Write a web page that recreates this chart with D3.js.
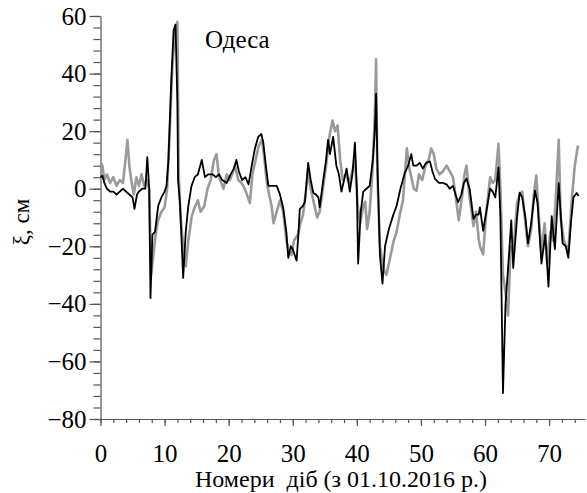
<!DOCTYPE html>
<html>
<head>
<meta charset="utf-8">
<script src="https://cdn.jsdelivr.net/npm/d3@7"></script>
<style>
  body { margin: 0; background: #fff; }
  svg { display: block; }
</style>
</head>
<body>
<svg id="chart"></svg>
<script>
// observed sea level (grey), [day, cm]
const observed = [
  [0, 9], [0.3, 8], [0.6, 3], [1.0, 5], [1.5, 2], [2.0, 4], [2.5, 1], [3.0, 3], [3.5, 2], [3.8, 8],
  [4.2, 17], [4.5, 8], [4.8, 3], [5.2, -2], [5.6, 4], [6.0, 1], [6.4, 5], [6.8, 1], [7.2, 3], [7.6, 0],
  [7.9, -30], [8.3, -22], [8.6, -16], [9.0, -11], [9.5, -8], [10.0, -6.5], [10.4, 0], [10.8, 20], [11.2, 42], [11.6, 54],
  [12.0, 58], [12.2, 5], [12.5, -10], [13.0, -22], [13.3, -27], [13.7, -18], [14.2, -10], [14.6, -7], [15.2, -4], [15.6, -8],
  [16.2, -6], [16.7, 0], [17.2, 3], [17.7, 10], [18.1, 12], [18.5, 4], [19.2, 0], [19.7, 5], [20.2, 3], [20.7, 6],
  [21.0, 8], [21.5, 3], [22.0, 2], [22.5, 0], [23.0, -3], [23.3, -5], [23.7, 5], [24.2, 10], [24.7, 15], [25.2, 17],
  [25.5, 12], [25.9, 3], [26.3, -2], [26.7, -6], [27.0, -12], [27.5, -8], [28.0, -4], [28.5, -8], [29.0, -18], [29.4, -22],
  [29.8, -23], [30.2, -18], [30.8, -16], [31.2, -12], [31.6, -9], [32.0, -2], [32.4, 6], [32.8, 0], [33.3, -5], [33.8, -10],
  [34.2, -8], [34.7, 0], [35.2, 8], [35.7, 18], [36.2, 23.7], [36.6, 20], [37.0, 22], [37.4, 10], [37.8, 3], [38.3, 5],
  [38.8, 2], [39.3, 6], [39.7, 10], [40.1, -5], [40.5, -12], [41.0, -6], [41.3, -4.5], [41.6, -14], [42.0, -8], [42.4, 5],
  [42.8, 25], [43.0, 45], [43.2, 5], [43.6, -20], [44.2, -28], [44.6, -30], [45.0, -26], [45.7, -18.5], [46.2, -15], [46.7, -9],
  [47.2, -4], [47.8, 14], [48.2, 7], [48.9, 0], [49.3, -0.7], [49.7, 5], [50.2, 3], [50.7, 8], [51.2, 10], [51.6, 14],
  [52.0, 12], [52.4, 7], [52.9, 5], [53.4, 6], [54.0, 8], [54.5, 6], [55.0, 4], [55.5, -4], [55.9, -11], [56.4, -3],
  [56.8, 5], [57.1, 8], [57.6, -3], [58.2, -13], [58.6, -8], [59.0, -17], [59.2, -20], [59.7, -22.8], [60.2, -8], [60.8, 4],
  [61.2, 2], [61.6, 3], [62.1, 15.6], [62.4, 0], [62.8, -30], [63.2, -36], [63.6, -44], [64.0, -20], [64.4, -22], [65.0, -5],
  [65.4, -2], [65.8, -1], [66.3, -12], [66.7, -20], [67.2, -14], [67.6, -2], [68.0, 4.6], [68.4, -10], [68.8, -22], [69.3, -12],
  [69.7, -26], [70.2, -15], [70.6, -18], [71.0, -5], [71.5, 17], [71.8, -10], [72.3, -18], [73.0, -22], [73.5, -5], [74.0, 8],
  [74.5, 15]
];

// modelled sea level (black), [day, cm]
const modelled = [
  [0, 4], [0.3, 4.5], [0.6, 2], [1.0, 0], [1.5, -1], [2.0, -1], [2.5, -2], [3.0, -1], [3.5, 0], [4.0, -1],
  [4.5, -2], [5.0, -3], [5.3, -7], [5.7, -2], [6.0, -1], [6.5, 0], [7.0, 0], [7.3, 11], [7.6, 0], [7.8, -38],
  [8.1, -16], [8.5, -15], [9.0, -6], [9.5, -3], [10.0, -1], [10.3, 1], [10.6, 10], [11.0, 35], [11.4, 55], [11.7, 57],
  [12.0, 30], [12.1, 3], [12.4, -5], [12.9, -31], [13.3, -15], [13.7, -6], [14.2, 1], [14.7, 4], [15.2, 5], [15.8, 10],
  [16.3, 4], [16.8, 5], [17.5, 5], [18.0, 4], [18.5, 5], [19.0, 3], [19.7, 2], [20.3, 5], [20.8, 7], [21.2, 10],
  [21.6, 6], [22.1, 3], [22.6, 4], [23.1, 1.5], [23.6, 8], [24.1, 14], [24.6, 18], [25.1, 19], [25.4, 16], [25.8, 8],
  [26.2, 1], [26.8, 1], [27.5, 1], [28.0, -2], [28.5, -6.5], [29.0, -15], [29.3, -24], [29.7, -20], [30.0, -21], [30.6, -25],
  [30.9, -15], [31.1, -7], [31.6, -6], [31.9, -4.5], [32.4, 9], [32.8, 3], [33.2, -1.4], [33.6, -2], [34.0, -3], [34.2, -6.5],
  [34.7, 2], [35.2, 10], [35.5, 17], [35.8, 12], [36.3, 18], [36.8, 8], [37.2, 5], [37.6, -1], [38.0, 3], [38.4, 7],
  [38.9, -1], [39.3, 5], [39.7, 16], [40.0, 0], [40.2, -26], [40.6, -8], [41.0, -1], [41.5, 0], [42.0, 1], [42.5, 10],
  [42.8, 20], [43.0, 33], [43.2, 10], [43.6, -23], [44.0, -33], [44.4, -20], [45.0, -14], [45.7, -9], [46.2, -6], [46.8, 0],
  [47.5, 5.6], [48.0, 8], [48.5, 12], [48.8, 8], [49.3, 8], [49.8, 9], [50.3, 7], [50.8, 9], [51.4, 9.5], [51.8, 6],
  [52.2, 3.4], [52.8, 2], [53.4, 2], [54.0, 1.5], [54.5, 0], [55.0, 1], [55.4, -2], [55.8, -4.7], [56.3, -2], [56.7, 2],
  [57.1, 3.5], [57.6, 0], [58.2, -10.5], [58.6, -9], [59.0, -9], [59.2, -6.5], [59.7, -14.6], [60.2, -8], [60.8, 0], [61.2, -1],
  [61.6, -3], [62.1, 7.4], [62.4, -10], [62.8, -71], [63.2, -40], [63.6, -27.5], [64.1, -11], [64.4, -27.5], [65.0, -10], [65.4, -1.4],
  [65.8, -3], [66.3, -10], [66.7, -19], [67.2, -12], [67.8, -0.7], [68.2, -5], [68.8, -26], [69.4, -16], [69.9, -34], [70.4, -9.5],
  [70.9, -21], [71.5, 2], [72.1, -19], [72.6, -20], [73.0, -24], [73.4, -12], [73.8, -3], [74.3, -1.5], [74.6, -2.5]
];

const xTicks = [0, 10, 20, 30, 40, 50, 60, 70];
const yTicks = [-80, -60, -40, -20, 0, 20, 40, 60];
const stationName = "Одеса";
const xTitle = "Номери  діб (з 01.10.2016 р.)";
const yTitle = "ξ, см";

function drawChart(svg_id, width, height) {
    const svg = d3.select(svg_id)
        .attr("width", width)
        .attr("height", height)
        .attr("viewBox", [0, 0, width, height]);

    const font = "'Liberation Serif', 'Times New Roman', serif";

    // scales
    const x_scale = d3.scaleLinear().domain([0, 75.6]).range([100.5, 585]);
    const y_scale = d3.scaleLinear().domain([-80, 60]).range([419, 16]);

    // minor ticks first
    svg.append("g")
        .attr("transform", `translate(0, ${y_scale(-80)})`)
        .call(d3.axisBottom(x_scale).tickValues(d3.range(0, 76, 2)).tickSize(4).tickFormat(""))
        .call(g => g.select(".domain").remove());
    svg.append("g")
        .attr("transform", `translate(${x_scale(0)}, 0)`)
        .call(d3.axisLeft(y_scale).tickValues(d3.range(-80, 61, 4)).tickSize(7).tickFormat(""))
        .call(g => g.select(".domain").remove());

    // x axis
    const gX = svg.append("g")
        .attr("transform", `translate(0, ${y_scale(-80)})`)
        .call(d3.axisBottom(x_scale).tickValues(xTicks).tickSize(7).tickSizeOuter(0).tickPadding(18));
    gX.selectAll("text").style("font-size", "25px").style("font-family", font).attr("fill", "#000");

    // y axis
    const gY = svg.append("g")
        .attr("transform", `translate(${x_scale(0)}, 0)`)
        .call(d3.axisLeft(y_scale).tickValues(yTicks).tickSize(11).tickSizeOuter(0).tickPadding(3));
    gY.selectAll("text").style("font-size", "25px").style("font-family", font).attr("fill", "#000");

    svg.selectAll(".domain, .tick line").attr("stroke", "#555").attr("stroke-width", 1.2);

    // lines
    const line = d3.line()
        .x(d => x_scale(d[0]))
        .y(d => y_scale(d[1]));

    svg.append("path")
        .datum(observed)
        .attr("d", line)
        .attr("fill", "none")
        .attr("stroke", "#9a9a9a")
        .attr("stroke-width", 2.6)
        .attr("stroke-linejoin", "round");

    svg.append("path")
        .datum(modelled)
        .attr("d", line)
        .attr("fill", "none")
        .attr("stroke", "#000")
        .attr("stroke-width", 1.8)
        .attr("stroke-linejoin", "round");

    // station name
    svg.append("text")
        .attr("x", 205)
        .attr("y", 48)
        .style("font-family", font)
        .style("font-size", "25px")
        .text(stationName);

    // axis titles
    svg.append("text")
        .attr("x", 341)
        .attr("y", 487)
        .attr("text-anchor", "middle")
        .style("font-family", font)
        .style("font-size", "24px")
        .style("white-space", "pre")
        .text(xTitle);

    svg.append("text")
        .attr("transform", "translate(29, 222) rotate(-90)")
        .attr("text-anchor", "middle")
        .style("font-family", font)
        .style("font-size", "23px")
        .text(yTitle);
}

drawChart("#chart", 587, 493);
</script>
</body>
</html>
